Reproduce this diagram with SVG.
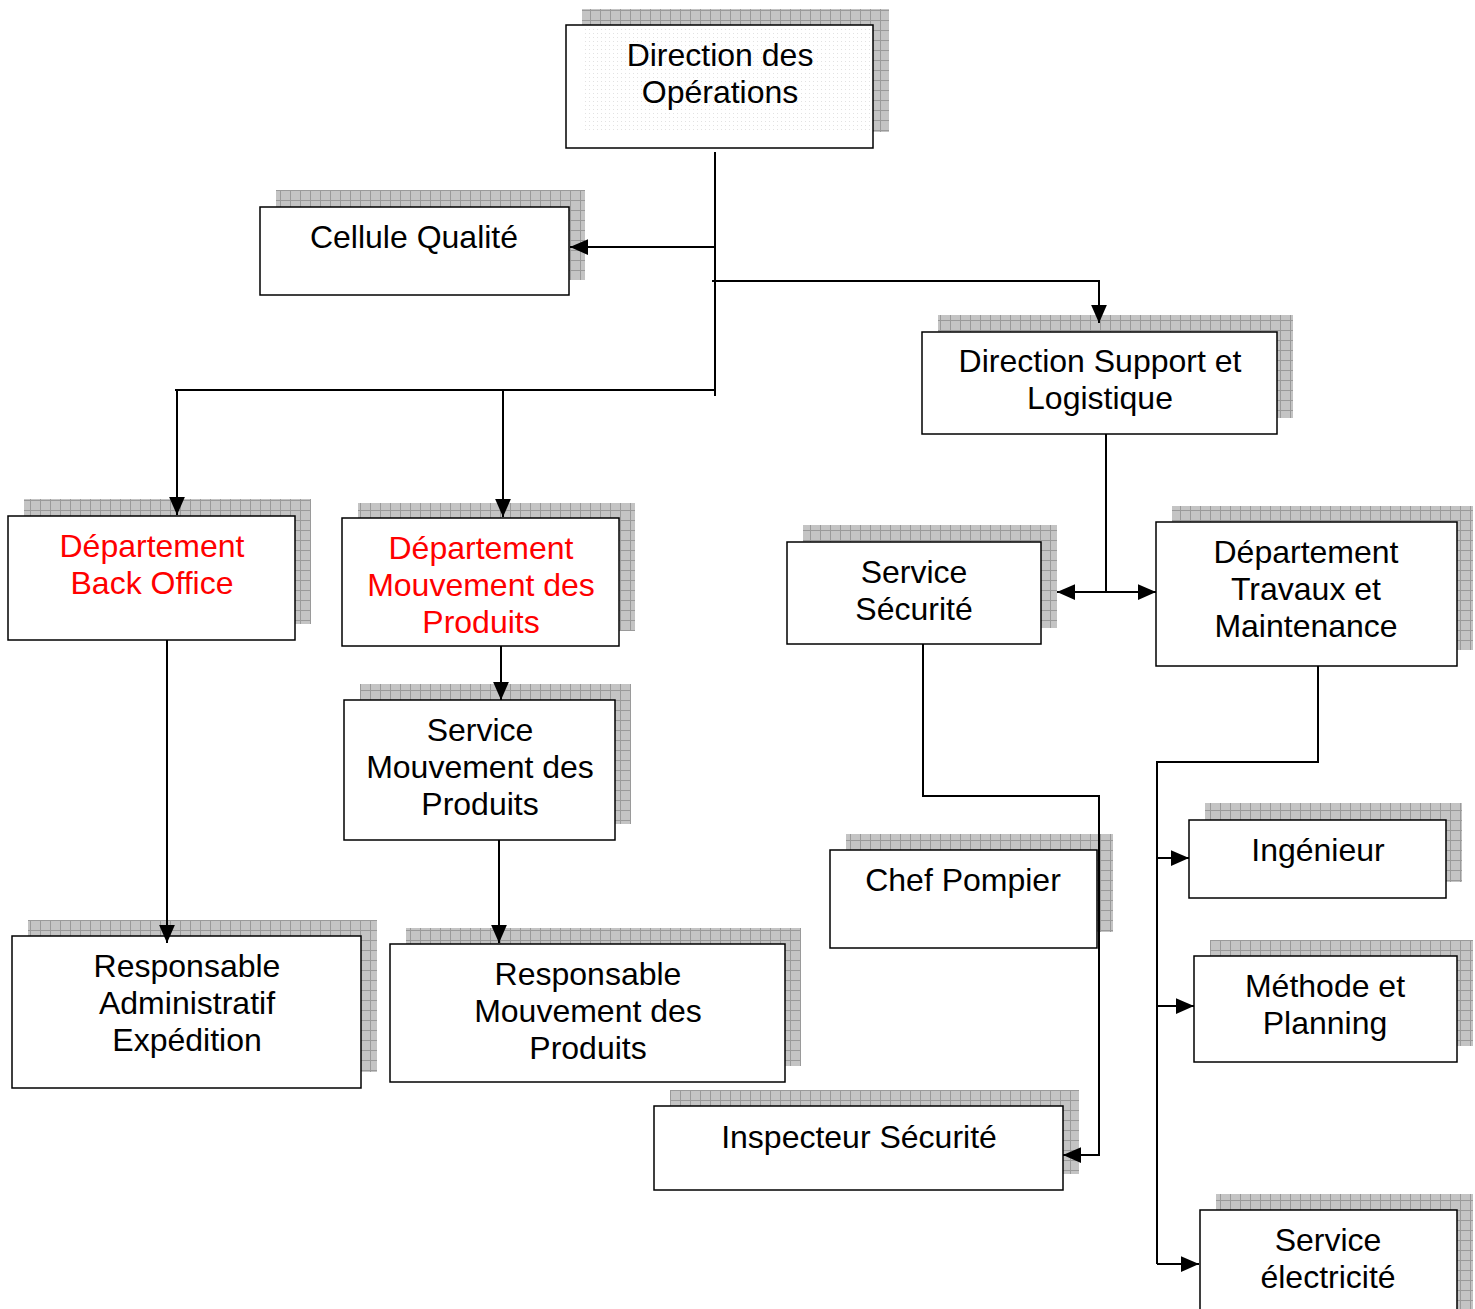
<svg xmlns="http://www.w3.org/2000/svg" width="1475" height="1309" viewBox="0 0 1475 1309">
<style>
.box{fill:#fff;stroke:#000;stroke-width:1.5}
.sh{fill:url(#grid)}
.t{font-family:"Liberation Sans",Arial,sans-serif;font-size:32px;fill:#000;text-anchor:middle}
.red{fill:#ff0000}
.c{fill:none;stroke:#000;stroke-width:2}
</style>
<defs>
<pattern id="grid" patternUnits="userSpaceOnUse" width="10" height="10">
<rect width="10" height="10" fill="#c4c4c4"/>
<path d="M0 0.5H10M0.5 0V10" stroke="#9a9a9a" stroke-width="1"/>
</pattern>
<pattern id="dots" patternUnits="userSpaceOnUse" width="4" height="4">
<rect width="4" height="4" fill="#fff"/>
<rect x="1" y="1" width="1" height="1" fill="#e2e2e2"/>
</pattern>
<marker id="ah" markerUnits="userSpaceOnUse" markerWidth="18" markerHeight="16" refX="16" refY="7" orient="auto-start-reverse" viewBox="0 0 16 14">
<path d="M0 0L16 7L0 14z" fill="#000"/>
</marker>
</defs>

<g id="n-direction-operations">
<rect class="sh" x="582" y="9" width="307" height="123"/>
<rect class="box" x="566" y="25" width="307" height="123"/>
<rect x="584" y="27" width="286" height="105" fill="url(#dots)"/>
<text class="t" x="720" y="66">Direction des</text>
<text class="t" x="720" y="103">Opérations</text>
</g>

<g id="n-cellule-qualite">
<rect class="sh" x="276" y="190" width="309" height="90"/>
<rect class="box" x="260" y="207" width="309" height="88"/>
<text class="t" x="414" y="248">Cellule Qualité</text>
</g>

<g id="n-direction-support">
<rect class="sh" x="938" y="315" width="355" height="103"/>
<rect class="box" x="922" y="332" width="355" height="102"/>
<text class="t" x="1100" y="372">Direction Support et</text>
<text class="t" x="1100" y="409">Logistique</text>
</g>

<g id="n-back-office">
<rect class="sh" x="24" y="499" width="287" height="125"/>
<rect class="box" x="8" y="516" width="287" height="124"/>
<text class="t red" x="152" y="557">Département</text>
<text class="t red" x="152" y="594">Back Office</text>
</g>

<g id="n-dept-mouvement">
<rect class="sh" x="358" y="503" width="277" height="128"/>
<rect class="box" x="342" y="518" width="277" height="128"/>
<text class="t red" x="481" y="559">Département</text>
<text class="t red" x="481" y="596">Mouvement des</text>
<text class="t red" x="481" y="633">Produits</text>
</g>

<g id="n-service-securite">
<rect class="sh" x="803" y="525" width="254" height="103"/>
<rect class="box" x="787" y="542" width="254" height="102"/>
<text class="t" x="914" y="583">Service</text>
<text class="t" x="914" y="620">Sécurité</text>
</g>

<g id="n-dept-travaux">
<rect class="sh" x="1172" y="506" width="301" height="144"/>
<rect class="box" x="1156" y="522" width="301" height="144"/>
<text class="t" x="1306" y="563">Département</text>
<text class="t" x="1306" y="600">Travaux et</text>
<text class="t" x="1306" y="637">Maintenance</text>
</g>

<g id="n-service-mouvement">
<rect class="sh" x="360" y="684" width="271" height="140"/>
<rect class="box" x="344" y="700" width="271" height="140"/>
<text class="t" x="480" y="741">Service</text>
<text class="t" x="480" y="778">Mouvement des</text>
<text class="t" x="480" y="815">Produits</text>
</g>

<g id="n-chef-pompier">
<rect class="sh" x="846" y="834" width="267" height="98"/>
<rect class="box" x="830" y="850" width="267" height="98"/>
<text class="t" x="963" y="891">Chef Pompier</text>
</g>

<g id="n-ingenieur">
<rect class="sh" x="1205" y="803" width="257" height="79"/>
<rect class="box" x="1189" y="820" width="257" height="78"/>
<text class="t" x="1318" y="861">Ingénieur</text>
</g>

<g id="n-methode">
<rect class="sh" x="1210" y="940" width="263" height="106"/>
<rect class="box" x="1194" y="956" width="263" height="106"/>
<text class="t" x="1325" y="997">Méthode et</text>
<text class="t" x="1325" y="1034">Planning</text>
</g>

<g id="n-resp-admin">
<rect class="sh" x="28" y="920" width="349" height="152"/>
<rect class="box" x="12" y="936" width="349" height="152"/>
<text class="t" x="187" y="977">Responsable</text>
<text class="t" x="187" y="1014">Administratif</text>
<text class="t" x="187" y="1051">Expédition</text>
</g>

<g id="n-resp-mouvement">
<rect class="sh" x="406" y="928" width="395" height="138"/>
<rect class="box" x="390" y="944" width="395" height="138"/>
<text class="t" x="588" y="985">Responsable</text>
<text class="t" x="588" y="1022">Mouvement des</text>
<text class="t" x="588" y="1059">Produits</text>
</g>

<g id="n-inspecteur">
<rect class="sh" x="670" y="1090" width="409" height="84"/>
<rect class="box" x="654" y="1106" width="409" height="84"/>
<text class="t" x="859" y="1148">Inspecteur Sécurité</text>
</g>

<g id="n-service-electricite">
<rect class="sh" x="1216" y="1194" width="257" height="130"/>
<rect class="box" x="1200" y="1210" width="257" height="120"/>
<text class="t" x="1328" y="1251">Service</text>
<text class="t" x="1328" y="1288">électricité</text>
</g>

<g id="connectors">
<path class="c" d="M715 152V396"/>
<path class="c" d="M715 247H570" marker-end="url(#ah)"/>
<path class="c" d="M712 281H1099V323" marker-end="url(#ah)"/>
<path class="c" d="M175 390H715"/>
<path class="c" d="M177 390V515" marker-end="url(#ah)"/>
<path class="c" d="M503 390V517" marker-end="url(#ah)"/>
<path class="c" d="M1106 434V592"/>
<path class="c" d="M1057 592H1156" marker-start="url(#ah)" marker-end="url(#ah)"/>
<path class="c" d="M167 640V943" marker-end="url(#ah)"/>
<path class="c" d="M501 646V700" marker-end="url(#ah)"/>
<path class="c" d="M499 840V943" marker-end="url(#ah)"/>
<path class="c" d="M923 644V796H1099V1155H1063" marker-end="url(#ah)"/>
<path class="c" d="M1318 666V762H1157V1264"/>
<path class="c" d="M1157 858H1189" marker-end="url(#ah)"/>
<path class="c" d="M1157 1006H1194" marker-end="url(#ah)"/>
<path class="c" d="M1157 1264H1199" marker-end="url(#ah)"/>
</g>
</svg>
